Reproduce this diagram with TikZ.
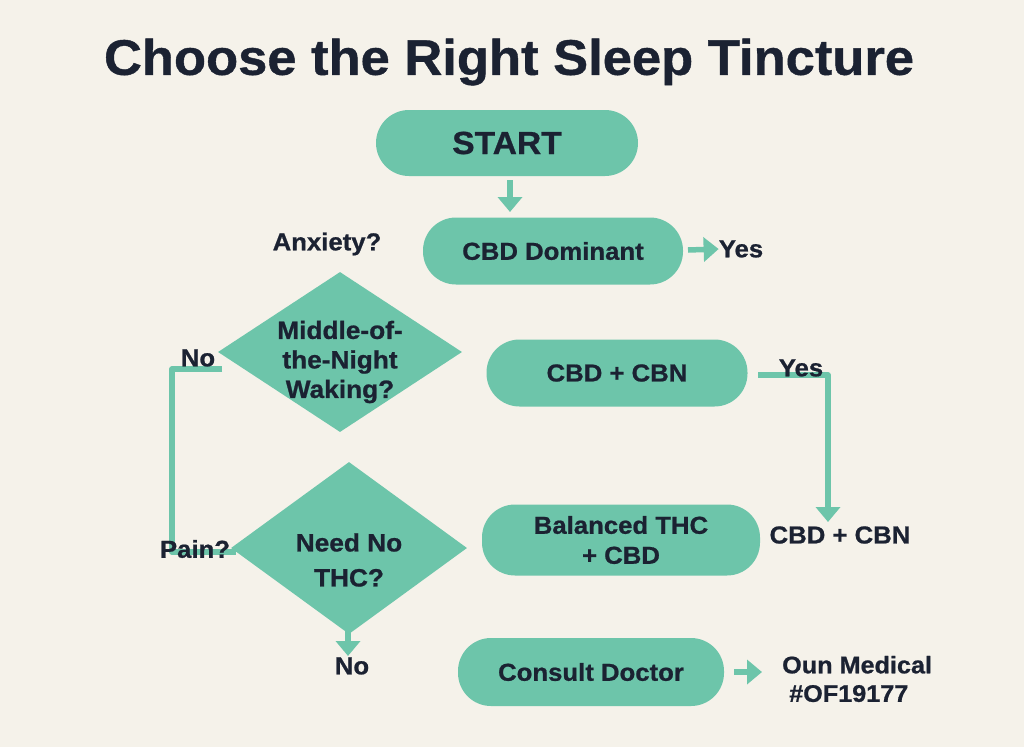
\documentclass[tikz,border=0pt]{standalone}
\usepackage{fontspec}
\setmainfont[FakeStretch=1.05,FakeBold=0.8]{Liberation Sans}
\usetikzlibrary{arrows.meta,shapes.geometric}
\pgfdeclarelayer{back}
\pgfdeclarelayer{mid}
\pgfsetlayers{back,mid,main}
\definecolor{bg}{HTML}{F5F2EA}
\definecolor{teal}{HTML}{6DC5AA}
\definecolor{ink}{HTML}{1B2232}
\tikzset{
  pill/.style={fill=teal, rounded corners=33pt, minimum height=66pt, text=ink, font=\fontsize{24.5}{30}\selectfont\bfseries, align=center},
  dia/.style={diamond, fill=teal, aspect=1.5, inner sep=0pt},
  lab/.style={text=ink, font=\fontsize{24.5}{30}\selectfont\bfseries, inner sep=0pt},
  conn/.style={draw=teal, line width=5.5pt},
  arr/.style={conn, -{Triangle[length=15pt,width=24pt]}},
}
\begin{document}
\begin{tikzpicture}[x=1pt,y=-1pt]
\begin{pgfonlayer}{back}
\fill[bg] (0,0) rectangle (1024,747);
\end{pgfonlayer}
\useasboundingbox (0,0) rectangle (1024,747);
\node[text=ink, font=\fontsize{50}{56}\selectfont\bfseries] (title) at (509,62) {Choose the Right Sleep Tincture};
\node[pill, minimum width=262pt, font=\fontsize{32}{36}\selectfont\bfseries] (start) at (507,143) {START};
\node[pill, minimum width=260pt, minimum height=67pt] (cbdd) at (553,251) {CBD Dominant};
\node[pill, minimum width=261pt, minimum height=67pt] (cbn) at (617,373) {CBD + CBN};
\node[pill, minimum width=278pt, minimum height=71pt] (bal) at (621,540) {Balanced THC\\+ CBD};
\node[pill, minimum width=266pt, minimum height=68pt] (doc) at (591,672) {Consult Doctor};
\node[dia, minimum width=244pt, minimum height=160pt] (d1) at (340,352) {};
\node[lab, align=center, font=\fontsize{25}{29.5}\selectfont\bfseries] (d1t) at (340,362) {Middle-of-\\the-Night\\Waking?};
\node[dia, minimum width=236pt, minimum height=172pt] (d2) at (349,548) {};
\node[lab, align=center, font=\fontsize{25}{35}\selectfont\bfseries] (d2t) at (349,560) {Need No\\THC?};
\node[lab] (anx) at (327,244) {Anxiety?};
\node[lab] (yes1) at (741,249) {Yes};
\node[lab] (no1) at (198,358) {No};
\node[lab] (pain) at (195,549) {Pain?};
\node[lab] (yes2) at (801,368) {Yes};
\node[lab] (cbn2) at (840,535) {CBD + CBN};
\node[lab] (no2) at (352,666) {No};
\node[lab, align=left, anchor=west, font=\fontsize{24}{28.5}\selectfont\bfseries] (med) at (782,679) {Oun Medical\\\ \#OF19177};
\begin{pgfonlayer}{mid}
\coordinate (a1s) at (510,180);
\coordinate (a1e) at (510,212);
\draw[arr] (a1s) -- (a1e);
\coordinate (a2s) at (688,250);
\draw[arr] (a2s) -- (yes1.west);
\coordinate (l1) at (172,369);
\coordinate (l2) at (172,552);
\coordinate (l3) at (236,552);
\coordinate (l0) at (222,369);
\draw[conn, line join=round] (l0) -- (l1) -- (l2) -- (l3);
\coordinate (r0) at (758,375);
\coordinate (r1) at (828,375);
\coordinate (r2) at (828,522);
\draw[arr, line join=round] (r0) -- (r1) -- (r2);
\coordinate (b0) at (348,630);
\coordinate (b1) at (348,656);
\draw[arr] (b0) -- (b1);
\coordinate (c0) at (734,672);
\coordinate (c1) at (762,672);
\draw[arr] (c0) -- (c1);
\end{pgfonlayer}
\end{tikzpicture}
\end{document}
